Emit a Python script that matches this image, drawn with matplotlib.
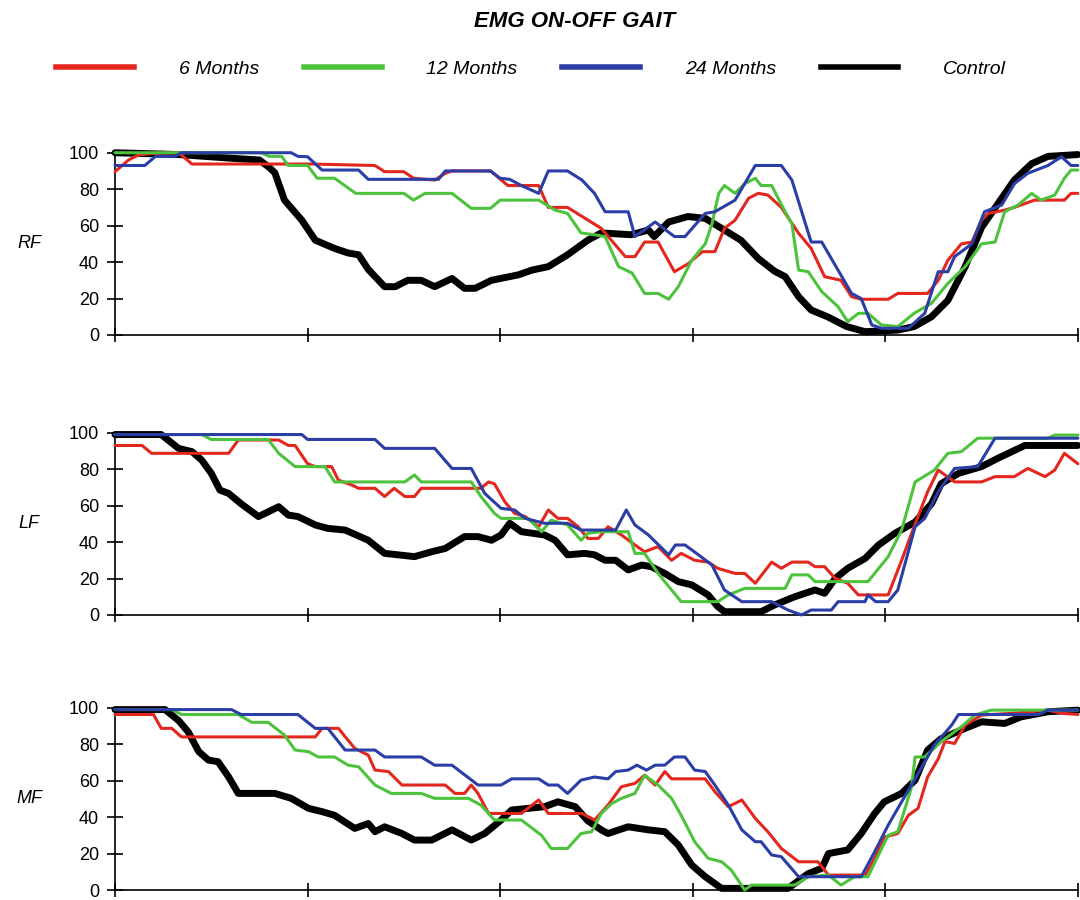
import matplotlib
matplotlib.use('Agg')
import matplotlib.pyplot as plt

# % of gait cycle vs EMG activity
rf_red = [(0, 89.6), (1.4, 96), (2.4, 98.7), (3.8, 99.6), (6.6, 100), (8, 93.8), (20.4, 93.8), (27, 93), (28, 89.6),
          (30, 89.6), (31, 86), (33.2, 85), (34.3, 88.7), (35, 90), (39, 90), (40.8, 82), (44, 82), (45, 70), (47, 70),
          (50.5, 58.5), (53, 43), (54, 43), (55, 51), (56.4, 51), (58.1, 34.7), (59.5, 39), (61, 45.7), (62.3, 45.7),
          (63.3, 58.5), (64.4, 63), (65.8, 75), (66.8, 77.7), (67.8, 76.8), (69.2, 70), (71, 55.8), (72.3, 47.5),
          (73.7, 32), (75.4, 30), (76.5, 21), (77.5, 19.6), (80.3, 19.6), (81.3, 22.8), (84.4, 22.8), (85.5, 30),
          (86.5, 41), (87.9, 50), (89, 51), (90, 63), (90.7, 66.7), (92.4, 68.5), (93.4, 70), (95.5, 74), (98.6, 74),
          (99.3, 77.7), (100, 77.7)]
rf_green = [(0, 100), (15.2, 100), (16, 98), (17.3, 98), (18, 93), (20, 93), (21, 86), (22.8, 86), (25, 77.7),
            (30, 77.7), (31, 74), (32.2, 77.7), (35, 77.7), (37, 69.5), (39, 69.5), (40, 74), (44, 74), (45.7, 68.5),
            (47, 66.7), (48.4, 56), (49.8, 55), (50.9, 54), (52.3, 37.5), (53.7, 34), (55, 22.8), (56.4, 22.8),
            (57.5, 19.6), (58.5, 26.5), (59.9, 41), (61.3, 50), (62, 61), (62.7, 77.7), (63.3, 82), (64.4, 77.7),
            (65.4, 83), (66.5, 86), (67.1, 82), (68.2, 82), (69.6, 67.6), (70.3, 61), (71, 35.6), (72, 34.7),
            (73.4, 23.8), (75.1, 15.5), (76.1, 7.3), (77.2, 11.9), (78.2, 11.9), (79.6, 5.5), (81.3, 4.6), (83, 11.9),
            (84.8, 17.4), (86.5, 28.3), (88.3, 37.5), (90, 50), (91.4, 51), (92.4, 67.6), (93.8, 71.3), (95.2, 77.7),
            (96.2, 74), (97.6, 76.8), (98.6, 86), (99.3, 90.5), (100, 90.5)]
rf_blue = [(0, 93), (3.1, 93), (4.2, 98), (6.2, 98), (6.9, 100), (18.3, 100), (19, 98), (20, 97.8), (21.5, 90.5),
           (25.3, 90.5), (26.3, 85.4), (33.6, 85.4), (34.3, 90), (39, 90), (40, 86), (41, 85.4), (42.2, 82), (44, 77.7),
           (45, 90), (47, 90), (48.5, 85), (49.8, 77.7), (50.9, 67.6), (53.3, 67.6), (54, 54), (56.1, 62), (58.1, 54),
           (59.2, 54), (61.3, 66.7), (62.3, 67.6), (64.4, 74), (66.5, 93), (69.2, 93), (70.3, 85), (72.3, 51),
           (73.4, 51), (76.5, 22.8), (77.5, 20), (78.6, 5.5), (79.6, 3.7), (82.4, 3.7), (84.1, 11.9), (85.5, 34.7),
           (86.5, 34.7), (87.2, 43), (89, 50), (90.3, 67.6), (92.1, 71.3), (93.4, 83), (94.8, 88.7), (96.9, 93),
           (98.3, 97.8), (99.3, 93), (100, 93)]
rf_control = [(0, 100), (6.6, 99), (12, 97), (15, 96), (16, 92), (16.6, 89), (17.6, 74), (19.4, 63), (20.8, 52),
              (22.8, 47.5), (24.2, 45), (25.3, 44), (26.3, 36), (28, 26.5), (29.1, 26.5), (30.4, 30), (31.8, 30),
              (33.2, 26.5), (35, 31), (36.3, 25.6), (37.4, 25.6), (39.1, 30), (41.9, 33), (43.3, 35.6), (45, 37.5),
              (47, 44), (49.1, 52), (50.5, 56), (53.6, 55), (55.4, 57.6), (56, 54), (57.5, 62), (59.5, 65), (61.3, 64),
              (63, 58.5), (65, 52), (66.8, 42), (68.5, 35), (69.6, 32), (71, 21), (72.3, 13.7), (74, 10), (76, 4.6),
              (77.9, 1.8), (81.3, 2.7), (83, 4.6), (84.8, 10), (86.5, 19), (88.3, 37.5), (90, 59), (91.7, 72),
              (93.4, 85), (95.2, 94), (96.9, 98), (100, 99)]

lf_red = [(0, 93), (2.8, 93), (3.8, 88.7), (11.8, 88.7), (12.8, 96), (17, 96), (18, 93), (18.7, 93), (20, 83),
          (20.8, 81.4), (22.5, 81.4), (23.2, 74), (24.6, 71.3), (25.3, 69.5), (27, 69.5), (28, 65), (29, 69.5),
          (30.1, 65), (31.1, 65), (31.8, 69.5), (38, 69.5), (38.8, 73), (39.4, 72), (40.5, 62), (41.5, 55.8),
          (42.6, 54), (44, 48.4), (45, 57.6), (46, 53), (47, 53), (48.1, 48.4), (49.1, 42), (50.2, 42), (51.2, 48.4),
          (52.6, 43.9), (54, 38.4), (55, 34.7), (56.4, 37.5), (57.8, 30), (58.8, 33.8), (60.2, 30), (61.6, 29),
          (62.6, 25.6), (64.4, 22.8), (65.4, 22.8), (66.5, 17.4), (68.2, 29), (69.2, 25.6), (70.3, 29), (72, 29),
          (72.7, 26.5), (73.7, 26.5), (74.8, 20), (76.1, 17.4), (77.2, 11), (80.3, 11), (81.7, 30), (83.1, 50),
          (84.4, 67.6), (85.5, 79.5), (87.2, 73), (90, 73), (91.4, 75.9), (93.4, 75.9), (94.8, 80.4), (96.6, 75.9),
          (97.6, 79.5), (98.6, 88.7), (100, 83)]
lf_green = [(0, 99), (9, 99), (10, 96.3), (15.9, 96.3), (17, 88.7), (18.7, 81.4), (21.8, 81.4), (22.8, 73),
            (30.1, 73), (31.1, 76.8), (31.8, 73), (37, 73), (38, 65), (39.4, 55.8), (40.1, 53), (42.9, 53),
            (44.3, 45.7), (45.3, 52), (47, 49.4), (48.4, 41), (49.1, 44.8), (50.5, 45.7), (53.3, 45.7), (54, 33.8),
            (55, 33.8), (56.4, 22.8), (58.8, 7.3), (62.6, 7.3), (63.7, 11), (65.4, 14.6), (69.6, 14.6), (70.3, 22),
            (72, 22), (72.7, 18.3), (78.2, 18.3), (80.3, 32), (81.7, 46.6), (83.1, 73), (85.1, 79.5), (86.5, 88.7),
            (87.9, 89.6), (89.6, 97), (96.9, 97), (97.6, 98.7), (100, 98.7)]
lf_blue = [(0, 99), (19.4, 99), (20, 96.3), (27, 96.3), (28, 91.4), (33.2, 91.4), (35, 80.4), (37, 80.4),
           (38.4, 66.7), (40.1, 58.5), (41.5, 57.6), (42.6, 53), (44.6, 50.3), (47, 50.3), (48.4, 46.6), (52, 46.6),
           (53.1, 57.6), (54, 49.4), (55.4, 43.9), (57.5, 33), (58.2, 38.4), (59.2, 38.4), (60.6, 33), (62, 27.4),
           (63.3, 13.7), (65.1, 7.3), (68.2, 7.3), (69.9, 2.7), (71.3, 0), (72.3, 2.7), (74.4, 2.7), (75.1, 7.3),
           (77.9, 7.3), (78.2, 11), (79, 7.3), (80.3, 7.3), (81.3, 13.7), (83.1, 48.4), (84.1, 53), (85.5, 67.6),
           (87.2, 80.4), (89.6, 81.4), (91.4, 97), (100, 97)]
lf_control = [(0, 99), (4.8, 99), (6.6, 91.4), (8, 89.6), (9, 85), (10, 77.7), (10.9, 68.5), (11.8, 66.7), (13.1, 61),
              (14.9, 54), (17, 59.4), (18, 54.8), (19, 54), (20.8, 49.4), (22.1, 47.5), (23.9, 46.6), (26.3, 41),
              (28, 33.8), (29.4, 33), (31.1, 32), (32.9, 34.7), (34.3, 36.5), (36.3, 43), (37.7, 43), (39.1, 41),
              (40.1, 43.9), (41, 50.3), (42.2, 45.7), (44.6, 43.9), (45.7, 41), (47, 33), (48.8, 33.8), (49.8, 33),
              (50.9, 30), (52, 30), (53.3, 24.7), (54.7, 27.4), (55.7, 26.5), (57.1, 22.8), (58.5, 18.3), (59.9, 16.5),
              (61.6, 11), (62.6, 4.6), (63.3, 1.8), (67.1, 1.8), (68.5, 5.5), (70.6, 10), (72.7, 13.7), (73.7, 11.9),
              (74.8, 20), (76.1, 25.6), (77.9, 31), (79.3, 38.4), (81, 44.8), (83.1, 51), (84.8, 61), (85.8, 72),
              (87.6, 77.7), (90, 81.4), (91.7, 86), (94.5, 93), (100, 93)]

mf_red = [(0, 96.3), (4, 96.3), (4.8, 88.7), (5.9, 88.7), (6.9, 84), (20.8, 84), (21.5, 88.7), (23.2, 88.7),
          (24.9, 77.7), (26.3, 74), (27, 65.8), (28.4, 65), (29.8, 57.6), (34.3, 57.6), (35.3, 53), (36.3, 53),
          (37, 57.6), (37.7, 53), (38.8, 42), (42.2, 42), (44, 49.4), (45, 42), (48.5, 42), (49.8, 38.4), (51.2, 46.6),
          (52.6, 56.7), (54, 58.5), (55, 63), (56.1, 57.6), (57.1, 65), (57.8, 61), (61.3, 61), (62.3, 54),
          (63.7, 45.7), (65.1, 49.4), (66.5, 39.3), (67.8, 32), (69.2, 22.8), (71, 15.5), (73, 15.5), (74.1, 8.2),
          (77.9, 8.2), (78.9, 17.4), (79.9, 29), (81.3, 31), (82.4, 41), (83.4, 44.8), (84.4, 62), (85.5, 72),
          (86.2, 81.4), (87.2, 80.4), (88.3, 90.5), (90, 96), (93.4, 97), (96.9, 98.7), (98.3, 97), (100, 96.3)]
mf_green = [(0, 99), (5.9, 99), (6.9, 96.3), (12.8, 96.3), (14.2, 92), (15.9, 92), (17.6, 85), (18.7, 76.8),
            (20.1, 75.9), (21.1, 73), (22.8, 73), (24.2, 68.5), (25.3, 67.6), (27, 57.6), (28.7, 53), (31.8, 53),
            (33.2, 50.3), (36.7, 50.3), (38, 46.6), (39.4, 38.4), (42.2, 38.4), (44.3, 30), (45.3, 22.8), (47, 22.8),
            (48.4, 31), (49.5, 32), (50.5, 42), (51.6, 47.5), (52.6, 50.3), (54, 53), (55, 63), (56.4, 57.6),
            (57.8, 50.3), (58.8, 41), (60.2, 26.5), (61.6, 17.4), (63, 15.5), (64, 11), (65.4, 0), (66.1, 2.7),
            (70.6, 2.7), (72, 7.3), (74.1, 8.2), (75.4, 2.7), (76.8, 7.3), (78.2, 7.3), (80.3, 30), (81.3, 32),
            (82.7, 55.8), (83.1, 73), (84.1, 73), (85.8, 81.4), (87.9, 89.6), (89.3, 96), (91, 98.7), (100, 98.7)]
mf_blue = [(0, 99), (12.1, 99), (13.1, 96.3), (19, 96.3), (20.8, 88.7), (22.1, 88.7), (23.9, 76.8), (27, 76.8),
           (28, 73), (31.8, 73), (33.2, 68.5), (35, 68.5), (37.7, 57.6), (40.1, 57.6), (41.2, 61), (44, 61), (45, 57.6),
           (46, 57.6), (47, 53), (48.4, 60.3), (49.8, 62), (51.2, 61), (52, 65), (53.3, 65.8), (54.2, 68.5),
           (55.2, 65.8), (56.1, 68.5), (57.1, 68.5), (58.1, 73), (59.2, 73), (60.2, 65.8), (61.3, 65), (62.3, 57.6),
           (63.7, 46.6), (65.1, 33), (66.5, 26.5), (67.1, 26.5), (68.2, 19.2), (69.2, 18.3), (71, 7.3), (77.5, 7.3),
           (78.9, 21), (80.3, 35.6), (81.7, 48.4), (83.1, 61), (85.1, 79.5), (86.9, 90.5), (87.6, 96.3), (95.9, 96.3),
           (96.9, 98.7), (100, 98.7)]
mf_control = [(0, 99), (5.2, 99), (6.6, 93), (7.6, 86.8), (8.7, 75.9), (9.7, 71.3), (10.7, 70.4), (11.8, 62),
              (12.8, 53), (16.6, 53), (18.3, 50.3), (20.1, 44.8), (21.5, 43), (22.8, 41), (24.9, 33.8), (26.3, 36.5),
              (27, 32), (28, 34.7), (29.8, 31), (31.1, 27.4), (32.9, 27.4), (35, 33), (37, 27.4), (38.4, 31),
              (40.1, 38.4), (41.2, 43.9), (42.9, 44.8), (44.6, 45.7), (46, 48.4), (47.8, 45.7), (49.1, 38), (50.5, 33),
              (51.2, 31), (53.3, 34.7), (55.4, 33), (57.1, 32), (58.5, 24.7), (59.9, 13.7), (61.3, 7.3), (63, 0.9),
              (69.9, 0.9), (72, 9), (73.4, 11.9), (74.1, 20), (76.1, 22), (77.5, 31), (78.9, 42), (79.9, 48.4),
              (81.7, 53), (83.1, 60.3), (84.4, 76.8), (85.8, 83), (88.3, 88.7), (90, 92.3), (92.4, 91.4), (94.1, 95),
              (96.9, 97.8), (100, 98.7)]

muscles = ['RF', 'LF', 'MF']
series_names = ['6 Months', '12 Months', '24 Months', 'Control']
panel_data = [
    [rf_red, rf_green, rf_blue, rf_control],
    [lf_red, lf_green, lf_blue, lf_control],
    [mf_red, mf_green, mf_blue, mf_control],
]
yticks = [0, 20, 40, 60, 80, 100]
xticks = [0, 20, 40, 60, 80, 100]

colors = ['#e3261e', '#4dc23c', '#2b3ea6', '#000000']
widths = [2.2, 2.2, 2.2, 5.0]
zorders = [3, 4, 5, 2]

plt.rcParams['font.family'] = ['Liberation Sans', 'DejaVu Sans']

fig = plt.figure(figsize=(10.8, 9), dpi=100)

# axes boxes (left, bottom, width, height) in figure fractions
boxes = [
    (0.1065, 0.6278, 0.8915, 0.2025),
    (0.1065, 0.3167, 0.8915, 0.2025),
    (0.1065, 0.0111, 0.8915, 0.2025),
]

for i, muscle in enumerate(muscles):
    ax = fig.add_axes(boxes[i])
    for j, pts in enumerate(panel_data[i]):
        xs = [p[0] for p in pts]
        ys = [p[1] for p in pts]
        ax.plot(xs, ys, color=colors[j], lw=widths[j], zorder=zorders[j],
                solid_joinstyle='round', solid_capstyle='round', clip_on=False)
    ax.set_xlim(0, 100)
    ax.set_ylim(0, 100)
    ax.set_xticks(xticks)
    ax.set_xticklabels([])
    ax.set_yticks(yticks)
    ax.set_yticklabels([str(t) for t in yticks], fontsize=13)
    ax.tick_params(axis='y', direction='inout', length=11, width=1.2, pad=6)
    ax.tick_params(axis='x', direction='inout', length=9.5, width=1.2)
    for s in ['top', 'right']:
        ax.spines[s].set_visible(False)
    ax.spines['left'].set_linewidth(1.2)
    ax.spines['bottom'].set_linewidth(1.2)
    ax.set_ylabel(muscle, rotation=0, fontsize=13, style='italic', ha='center', va='center')
    ax.yaxis.set_label_coords(-0.089, 0.5)

fig.text(0.532, 0.976, 'EMG ON-OFF GAIT', ha='center', va='center', fontsize=16,
         fontweight='bold', style='italic')

leg_lines = [plt.Line2D([], [], color=c, lw=4) for c in colors]
fig.legend(leg_lines, series_names, loc='center left', bbox_to_anchor=(0.036, 0.923), ncol=4,
           frameon=False, handlelength=4.0, handletextpad=2.3, columnspacing=2.3,
           prop={'style': 'italic', 'size': 14})

fig.savefig('out.png', dpi=100)
